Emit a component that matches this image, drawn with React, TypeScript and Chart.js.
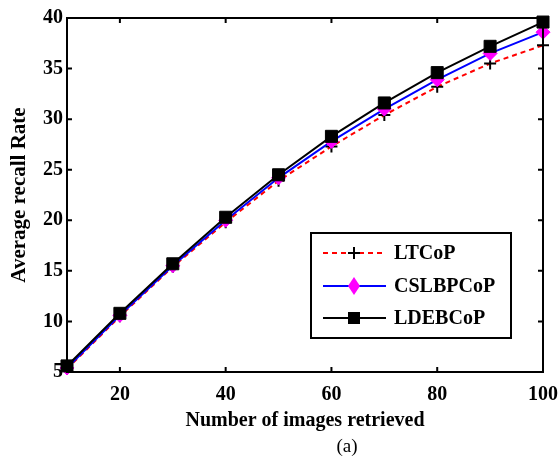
import React, { useEffect, useRef } from 'react';
import { Chart, registerables } from 'chart.js';
Chart.register(...registerables);

const xValues = [10, 20, 30, 40, 50, 60, 70, 80, 90, 100];
const ltcop = [5.3, 10.5, 15.4, 19.8, 23.9, 27.3, 30.4, 33.2, 35.5, 37.3];
const cslbpcop = [5.4, 10.6, 15.5, 20.0, 24.2, 27.8, 31.0, 33.9, 36.5, 38.6];
const ldebcop = [5.6, 10.8, 15.7, 20.3, 24.5, 28.3, 31.6, 34.6, 37.2, 39.6];
const xTicks = [20, 40, 60, 80, 100];
const yTicks = [5, 10, 15, 20, 25, 30, 35, 40];
const seriesNames = ['LTCoP', 'CSLBPCoP', 'LDEBCoP'];
const xTitle = 'Number of images retrieved';
const yTitle = 'Average recall Rate';
const caption = '(a)';

const SERIF = "'Liberation Serif', 'Times New Roman', serif";

function drawMarker(ctx: CanvasRenderingContext2D, style: string, x: number, y: number, fill: string, stroke: string) {
  ctx.save();
  ctx.fillStyle = fill;
  ctx.strokeStyle = stroke;
  ctx.setLineDash([]);
  if (style === 'cross') {
    ctx.lineWidth = 2;
    ctx.beginPath();
    ctx.moveTo(x - 6, y); ctx.lineTo(x + 6, y);
    ctx.moveTo(x, y - 6); ctx.lineTo(x, y + 6);
    ctx.stroke();
  } else if (style === 'diamond') {
    ctx.beginPath();
    ctx.moveTo(x, y - 9); ctx.lineTo(x + 6, y); ctx.lineTo(x, y + 9); ctx.lineTo(x - 6, y);
    ctx.closePath();
    ctx.fill();
  } else {
    ctx.fillRect(x - 6, y - 6, 12, 12);
  }
  ctx.restore();
}

const framePlugin = {
  id: 'frame',
  afterDraw(chart: any) {
    const { ctx, chartArea } = chart;
    const { left, right, top, bottom } = chartArea;
    const xs = chart.scales.x;
    const ys = chart.scales.y;
    ctx.save();
    ctx.strokeStyle = '#000';
    ctx.lineWidth = 2;
    ctx.setLineDash([]);
    ctx.strokeRect(left, top, right - left, bottom - top);
    ctx.beginPath();
    const tl = 5;
    xs.ticks.forEach((t: any) => {
      const px = xs.getPixelForValue(t.value);
      ctx.moveTo(px, bottom); ctx.lineTo(px, bottom - tl);
      ctx.moveTo(px, top); ctx.lineTo(px, top + tl);
    });
    ys.ticks.forEach((t: any) => {
      const py = ys.getPixelForValue(t.value);
      ctx.moveTo(left, py); ctx.lineTo(left + tl, py);
      ctx.moveTo(right, py); ctx.lineTo(right - tl, py);
    });
    ctx.stroke();

    // legend
    const bx = right - 232, by = bottom - 139, bw = 200, bh = 105;
    ctx.fillStyle = '#fff';
    ctx.fillRect(bx, by, bw, bh);
    ctx.strokeRect(bx, by, bw, bh);
    const rows = [by + 20, by + 53, by + 85];
    const lineColors = ['#ff0000', '#0000ff', '#000000'];
    const dashes = [[5, 4], [], []];
    const markers = ['cross', 'diamond', 'square'];
    const mfill = ['#000', '#ff00ff', '#000'];
    seriesNames.forEach((name, i) => {
      const y = rows[i];
      ctx.save();
      ctx.strokeStyle = lineColors[i];
      ctx.lineWidth = 2;
      ctx.setLineDash(dashes[i]);
      ctx.beginPath();
      ctx.moveTo(bx + 12, y); ctx.lineTo(bx + 75, y);
      ctx.stroke();
      ctx.restore();
      drawMarker(ctx, markers[i], bx + 43, y, mfill[i], mfill[i]);
      ctx.fillStyle = '#000';
      ctx.font = `bold 20px ${SERIF}`;
      ctx.textBaseline = 'middle';
      ctx.textAlign = 'left';
      ctx.fillText(name, bx + 83, y + 1);
    });

    // caption
    ctx.font = `19px ${SERIF}`;
    ctx.textAlign = 'center';
    ctx.textBaseline = 'middle';
    ctx.fillStyle = '#000';
    ctx.fillText(caption, (left + right) / 2 + 42, 447);
    ctx.restore();
  },
};

export default function App() {
  const ref = useRef<HTMLCanvasElement>(null);
  useEffect(() => {
    if (!ref.current) return;
    const chart = new Chart(ref.current, {
      type: 'line',
      data: {
        datasets: [
          {
            label: seriesNames[0],
            data: xValues.map((x, i) => ({ x, y: ltcop[i] })),
            borderColor: '#ff0000',
            borderWidth: 2,
            borderDash: [5, 4],
            pointStyle: 'cross',
            pointRadius: 6,
            pointBorderColor: '#000',
            pointBorderWidth: 2,
            pointBackgroundColor: '#000',
            clip: false,
            order: 2,
          },
          {
            label: seriesNames[1],
            data: xValues.map((x, i) => ({ x, y: cslbpcop[i] })),
            borderColor: '#0000ff',
            borderWidth: 2,
            pointStyle: 'rectRot',
            pointRadius: 7,
            pointBorderColor: '#ff00ff',
            pointBorderWidth: 1,
            pointBackgroundColor: '#ff00ff',
            clip: false,
            order: 1,
          },
          {
            label: seriesNames[2],
            data: xValues.map((x, i) => ({ x, y: ldebcop[i] })),
            borderColor: '#000000',
            borderWidth: 2,
            pointStyle: 'rect',
            pointRadius: 8.5,
            pointBorderColor: '#000',
            pointBorderWidth: 1,
            pointBackgroundColor: '#000',
            clip: false,
            order: 0,
          },
        ],
      },
      options: {
        animation: false,
        responsive: false,
        layout: { padding: { left: 0, top: 18, right: 16, bottom: 0 } },
        plugins: { legend: { display: false }, tooltip: { enabled: false } },
        scales: {
          x: {
            type: 'linear',
            min: 10,
            max: 100,
            afterBuildTicks: (s: any) => { s.ticks = xTicks.map((v) => ({ value: v })); },
            afterFit: (s: any) => { s.height = 94; s.paddingLeft = 0; s.paddingRight = 0; },
            grid: { display: false, drawTicks: false },
            border: { display: false },
            ticks: {
              color: '#000',
              padding: 11,
              maxRotation: 0,
              font: { family: SERIF, size: 20, weight: 'bold' },
            },
            title: {
              display: true,
              text: xTitle,
              color: '#000',
              font: { family: SERIF, size: 20, weight: 'bold' },
              padding: { top: 0, bottom: 33 },
            },
          },
          y: {
            type: 'linear',
            min: 5,
            max: 40,
            afterBuildTicks: (s: any) => { s.ticks = yTicks.map((v) => ({ value: v })); },
            afterFit: (s: any) => { s.width = 67; s.paddingTop = 0; s.paddingBottom = 0; },
            grid: { display: false, drawTicks: false },
            border: { display: false },
            ticks: {
              color: '#000',
              padding: 4,
              font: { family: SERIF, size: 20, weight: 'bold' },
            },
            title: {
              display: true,
              text: yTitle,
              color: '#000',
              font: { family: SERIF, size: 21, weight: 'bold' },
              padding: { top: 7, bottom: 0 },
            },
          },
        },
      },
      plugins: [framePlugin],
    });
    return () => chart.destroy();
  }, []);
  return (
    <div style={{ position: 'absolute', left: 0, top: 0, width: 559, height: 466, background: '#fff' }}>
      <canvas ref={ref} width={559} height={466} />
    </div>
  );
}
